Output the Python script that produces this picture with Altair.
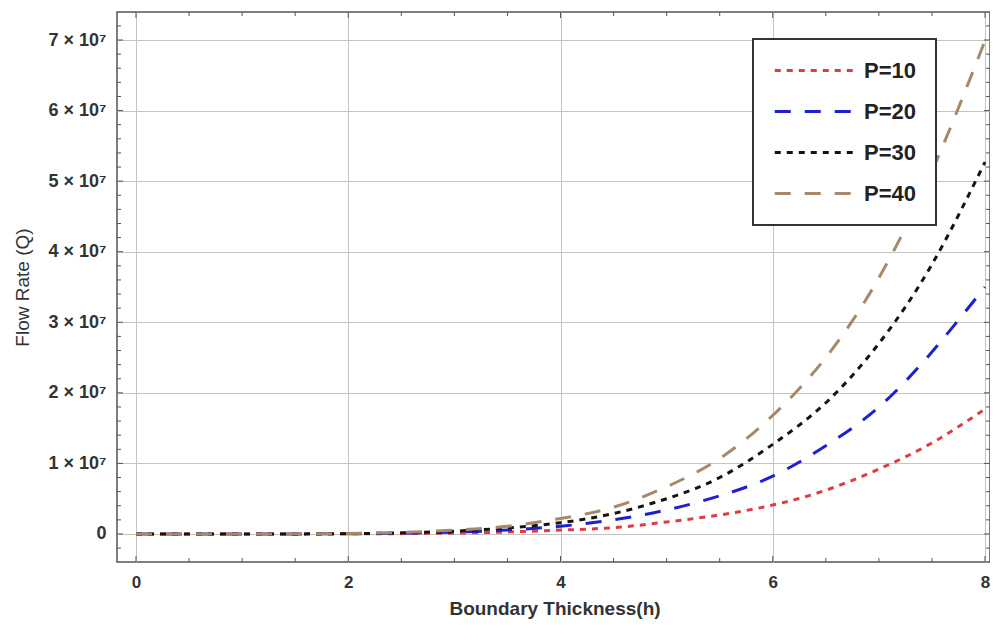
import altair as alt
import pandas as pd

# ---- data ----
h_values = [0, 0.5, 1, 1.5, 2, 2.5, 3, 3.5, 4, 4.5, 5, 5.5, 6, 6.5, 7, 7.5, 8]
q_p10 = [0, 0, 0, 0.0004e7, 0.002e7, 0.005e7, 0.013e7, 0.028e7, 0.055e7, 0.09e7,
         0.17e7, 0.27e7, 0.41e7, 0.62e7, 0.92e7, 1.29e7, 1.77e7]
q_p20 = [0, 0, 0, 0.001e7, 0.003e7, 0.011e7, 0.027e7, 0.057e7, 0.11e7, 0.2e7,
         0.34e7, 0.54e7, 0.82e7, 1.25e7, 1.80e7, 2.58e7, 3.50e7]
q_p30 = [0, 0, 0, 0.001e7, 0.005e7, 0.016e7, 0.04e7, 0.085e7, 0.16e7, 0.29e7,
         0.5e7, 0.8e7, 1.27e7, 1.86e7, 2.7e7, 3.82e7, 5.27e7]
q_p40 = [0, 0, 0, 0.002e7, 0.007e7, 0.021e7, 0.054e7, 0.11e7, 0.22e7, 0.38e7,
         0.67e7, 1.07e7, 1.68e7, 2.5e7, 3.63e7, 5.14e7, 6.99e7]

series_names = ["P=10", "P=20", "P=30", "P=40"]
series_colors = ["#e03c44", "#1e1ed2", "#141414", "#a6896a"]
series_dashes = [[6, 6], [16, 14], [6, 6], [16, 14]]

x_major_ticks = [0, 2, 4, 6, 8]
x_minor_ticks = [0.5, 1, 1.5, 2.5, 3, 3.5, 4.5, 5, 5.5, 6.5, 7, 7.5]
y_major_ticks = [0, 1e7, 2e7, 3e7, 4e7, 5e7, 6e7, 7e7]
y_minor_ticks = [-0.2e7] + [k * 0.2e7 for k in range(1, 37) if k % 5 != 0]

x_domain = [-0.179, 8.047]
y_domain = [-0.397e7, 7.397e7]

W, H = 873, 550
FONT = "Liberation Sans"
TXT = "#333333"

rows = []
for name, vals in zip(series_names, [q_p10, q_p20, q_p30, q_p40]):
    for h, q in zip(h_values, vals):
        rows.append({"h": h, "Q": q, "series": name})
df = pd.DataFrame(rows)

xs = alt.Scale(domain=x_domain, nice=False, zero=False)
ys = alt.Scale(domain=y_domain, nice=False, zero=False)

x_axis = alt.Axis(
    values=x_major_ticks, grid=True, ticks=False, domain=False,
    labelFont=FONT, labelFontSize=17, labelFontWeight="bold", labelColor=TXT,
    labelPadding=12, format="d",
    title="Boundary Thickness(h)", titleFont=FONT, titleFontSize=19,
    titleFontWeight="bold", titleColor=TXT, titleX=W / 2 + 1, titleY=46,
    titleBaseline="middle", titleAlign="center")
y_axis = alt.Axis(
    values=y_major_ticks, grid=True, ticks=False, domain=False,
    labelFont=FONT, labelFontSize=18, labelFontWeight="bold", labelColor=TXT,
    labelPadding=11,
    labelExpr="datum.value == 0 ? '0' : format(datum.value / 1e7, 'd') + ' \u00d7 10\u2077'",
    title="Flow Rate (Q)", titleFont=FONT, titleFontSize=19,
    titleFontWeight="normal", titleColor=TXT, titleX=-95, titleY=H / 2,
    titleBaseline="middle", titleAlign="center", titleAngle=270)

legend = alt.Legend(
    title=None, orient="none", legendX=636, legendY=27,
    symbolType="M-1,0H7", symbolSize=380, symbolStrokeWidth=3,
    labelFont=FONT, labelFontSize=22, labelFontWeight="bold",
    labelColor="#222222", labelOffset=68,
    fillColor="white", strokeColor="#333333",
    padding=20, rowPadding=18)

lines = alt.Chart(df).mark_line(strokeWidth=3, interpolate="natural").encode(
    x=alt.X("h:Q", scale=xs, axis=x_axis),
    y=alt.Y("Q:Q", scale=ys, axis=y_axis),
    color=alt.Color("series:N", scale=alt.Scale(domain=series_names, range=series_colors),
                    legend=legend),
    strokeDash=alt.StrokeDash("series:N", scale=alt.Scale(domain=series_names, range=series_dashes),
                              legend=legend),
    order=alt.Order("series:N"),
)

def xticks(vals, length):
    d = pd.DataFrame({"h": vals})
    b = alt.Chart(d).mark_rule(color="#555555", strokeWidth=1).encode(
        x=alt.X("h:Q", scale=xs, axis=x_axis), y=alt.value(H), y2=alt.value(H - length))
    t = alt.Chart(d).mark_rule(color="#555555", strokeWidth=1).encode(
        x=alt.X("h:Q", scale=xs, axis=x_axis), y=alt.value(0), y2=alt.value(length))
    return [b, t]

def yticks(vals, length):
    d = pd.DataFrame({"Q": vals})
    l = alt.Chart(d).mark_rule(color="#555555", strokeWidth=1).encode(
        y=alt.Y("Q:Q", scale=ys, axis=y_axis), x=alt.value(0), x2=alt.value(length))
    r = alt.Chart(d).mark_rule(color="#555555", strokeWidth=1).encode(
        y=alt.Y("Q:Q", scale=ys, axis=y_axis), x=alt.value(W), x2=alt.value(W - length))
    return [l, r]

layers = [lines] + xticks(x_major_ticks, 6) + xticks(x_minor_ticks, 4) \
    + yticks(y_major_ticks, 6) + yticks(y_minor_ticks, 4)

chart = alt.layer(*layers).properties(
    width=W, height=H,
    autosize=alt.AutoSizeParams(type="none"),
    padding={"left": 109, "top": 4, "right": 0, "bottom": 59},
    background="white",
).configure_view(
    stroke="#555555", strokeWidth=1.5
).configure_axis(
    gridColor="#c4c4c4", gridWidth=1, gridOpacity=1
).configure_legend(
    strokeWidth=2
)

chart.save("out.html", embed_options={"renderer": "svg", "actions": False})
